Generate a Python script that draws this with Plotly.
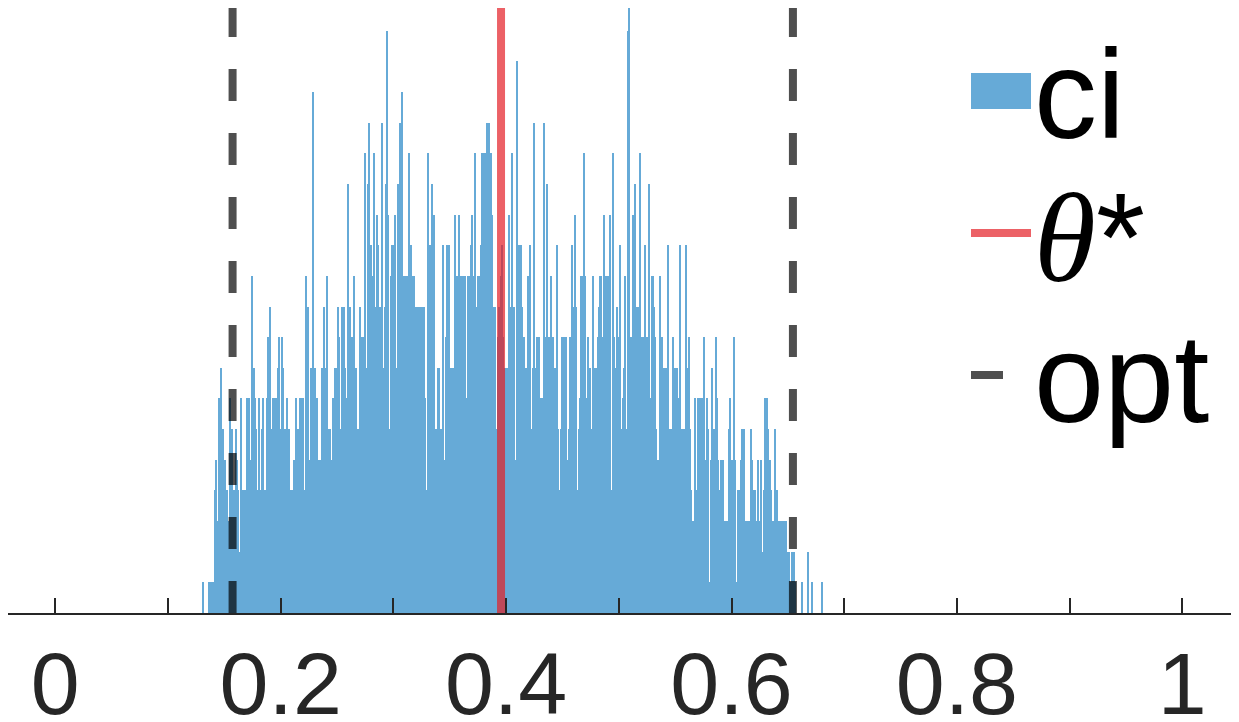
import plotly.graph_objects as go

# ---------------- data ----------------
bin_start = 0.130
bin_width = 0.001
counts = [
    0, 1, 0, 0, 0, 0, 1, 1, 0, 1,
    1, 4, 5, 2, 3, 7, 4, 8, 6, 4,
    5, 2, 4, 3, 3, 7, 6, 3, 4, 4,
    6, 5, 4, 2, 7, 3, 4, 1, 4, 3,
    7, 7, 5, 1, 11, 7, 8, 7, 6, 4,
    7, 4, 2, 6, 7, 4, 4, 7, 9, 6,
    10, 1, 6, 7, 7,
    7, 6, 8, 9, 6, 3, 9, 8, 6, 5,
    7, 3, 6, 4, 4, 4, 5, 5, 7, 6,
    6, 6, 7, 7, 7, 4, 4, 11, 9, 10,
    5, 8, 8, 17, 2, 8, 4, 7, 5, 5,
    5, 8, 8, 10, 8, 8, 11, 6, 6, 5,
    3, 7, 7, 8, 8, 10, 9, 6,
    6, 10, 8, 10, 8, 7, 14, 10, 10, 4,
    9, 8, 11, 8, 2, 6, 6, 10, 6, 9,
    9, 15, 8, 8, 14, 16, 8, 12, 11, 15,
    10, 8, 13, 12, 9, 10, 16, 8, 8, 10,
    14, 19, 13, 6, 11, 12, 12, 9, 13, 8,
    8, 14, 16, 10, 17, 7, 11, 11, 11, 11,
    15, 11, 12, 11, 11, 11, 10, 10, 10, 8,
    10, 10, 10, 10, 10, 7, 4, 15, 12, 12,
    7, 14, 4, 13, 6, 5, 8, 8, 5, 6,
    6, 12, 5, 9, 12, 12, 12, 8, 8, 8,
    4, 13, 11, 11, 11, 13, 11, 11, 11, 11,
    11, 7, 2, 11, 11, 12, 13, 11, 11, 15,
    5, 10, 11, 11, 12, 15, 6, 15, 15, 7,
    16, 16, 15,
    15, 13, 10, 9, 10, 6, 9, 10, 10, 11,
    12, 9, 8, 8, 8, 7, 13, 10, 10, 15,
    5, 10, 5, 18, 10, 12, 7, 12, 10, 9,
    8, 2, 8, 11, 4, 12, 6, 8, 16, 6,
    8, 9, 9, 9, 7, 7, 4, 16, 9, 8,
    14, 9, 9, 11, 9, 9, 8, 8, 8, 12,
    6, 4, 6, 9, 9, 9, 4, 9, 5, 6,
    9, 9, 12, 10, 6, 13, 10, 4, 6, 7,
    11, 11, 10, 15, 11, 7, 9, 8, 8, 6,
    5, 11, 8, 8, 8, 9, 10, 11, 11, 9,
    13, 7, 11, 10, 11, 9, 13, 4, 15, 9,
    8, 8, 10, 9, 9, 12, 6, 7, 8, 11,
    6, 5, 19, 20, 9, 9, 13, 9, 14, 10,
    10, 10, 15, 9, 7, 9, 9,
    12, 9, 9, 14, 7, 7, 11, 11, 10, 9,
    6, 5, 5, 11, 5, 9, 6, 8, 8, 8,
    12, 6, 5, 6, 6, 9, 8, 2, 8, 7,
    7, 12, 5, 6, 6, 5, 12, 8, 8, 9,
    6, 4, 3, 2, 7, 4, 2, 7, 3, 7,
    7, 4, 9, 5, 3, 7, 6, 1, 5, 8,
    4, 6, 6, 9, 7, 5, 4, 5, 4, 5,
    3, 3, 2, 3, 6, 7, 5, 5, 3, 9,
    5, 1, 4, 4,
    4, 5, 6, 4, 6, 3, 3, 3, 3, 3,
    6, 5, 4, 4, 3, 2, 5, 3, 2, 5,
    2, 4, 7, 6, 7, 6, 4, 5, 4, 3,
    1, 6, 4, 4, 3, 3, 3, 3, 2, 3,
    1, 3, 1, 2, 2, 1, 2, 0, 2, 1,
    0, 0, 0, 0, 0, 1, 0, 0, 0, 0,
    2, 0, 0, 0, 1, 0, 0, 0, 0, 0,
    0, 0, 0, 1,
]
theta_star = 0.3955
opt_bounds = [0.1573, 0.6545]
tick_vals = [0, 0.2, 0.4, 0.6, 0.8, 1]
tick_text = ["0", "0.2", "0.4", "0.6", "0.8", "1"]
minor_tick_vals = [0.1, 0.3, 0.5, 0.7, 0.9]
legend_labels = ["ci", "<i>θ</i>*", "opt"]

bin_centers = [bin_start + (i + 0.5) * bin_width for i in range(len(counts))]

# ---------------- style / layout ----------------
W, H = 1239, 722
OFF = 8                      # page body margin offset of the figure div
AXIS_Y = 613                 # screen y of the x-axis line
PX_PER_UNIT = 1127.0         # screen px per x data unit
X_ZERO = 55.3                # screen x of value 0
PX_PER_COUNT = AXIS_Y / 20.0

PLOT_W = W - OFF             # figure px
PLOT_H = AXIS_Y - OFF        # figure px

BAR_COLOR = "#66AAD7"
RED = "rgba(228,30,37,0.7)"
DARK = "rgba(0,0,0,0.69)"
YMAX = (AXIS_Y - OFF) / PX_PER_COUNT

fig = go.Figure()
fig.add_trace(go.Bar(
    x=bin_centers, y=counts, width=bin_width,
    marker=dict(color=BAR_COLOR, line=dict(width=0)),
    showlegend=False, hoverinfo="skip",
))
fig.add_trace(go.Scatter(
    x=[theta_star, theta_star], y=[0, 20], mode="lines",
    line=dict(color=RED, width=8), showlegend=False, hoverinfo="skip",
))
for xv in opt_bounds:
    fig.add_trace(go.Scatter(
        x=[xv, xv], y=[0, 20], mode="lines",
        line=dict(color=DARK, width=8, dash="32px,32px"),
        showlegend=False, hoverinfo="skip",
    ))


def px_x(screen_x):
    return (screen_x - OFF) / PLOT_W


def px_y(screen_y):
    return (PLOT_H - (screen_y - OFF)) / PLOT_H


shapes = [
    dict(type="rect", xref="paper", yref="paper",
         x0=px_x(971), x1=px_x(1031), y0=px_y(109), y1=px_y(73),
         fillcolor=BAR_COLOR, line=dict(width=0)),
    dict(type="line", xref="paper", yref="paper",
         x0=px_x(971), x1=px_x(1031), y0=px_y(233), y1=px_y(233),
         line=dict(color=RED, width=8)),
    dict(type="line", xref="paper", yref="paper",
         x0=px_x(971), x1=px_x(1003), y0=px_y(375), y1=px_y(375),
         line=dict(color=DARK, width=8)),
]

LEG_FONT = 126
legend_y = [94, 238, 378]
annotations = []
for lab, ly in zip(legend_labels, legend_y):
    txt = lab
    if "θ" in lab:
        txt = "<span style=\"font-family:'Liberation Serif'\"><i>θ</i></span>*"
    annotations.append(dict(
        xref="paper", yref="paper", x=px_x(1032), y=px_y(ly),
        xanchor="left", yanchor="middle", showarrow=False, text=txt,
        font=dict(family="Liberation Sans, Arial, sans-serif", size=LEG_FONT, color="black"),
    ))

xmin = (OFF - X_ZERO) / PX_PER_UNIT
xmax = (W - X_ZERO) / PX_PER_UNIT

fig.update_layout(
    width=W, height=H,
    margin=dict(l=0, r=W - PLOT_W, t=0, b=H - PLOT_H, autoexpand=False),
    paper_bgcolor="white", plot_bgcolor="white",
    bargap=0, barmode="overlay",
    shapes=shapes, annotations=annotations,
    xaxis=dict(
        range=[xmin, xmax],
        tickmode="array", tickvals=tick_vals, ticktext=tick_text,
        ticks="inside", ticklen=15, tickwidth=1.5, tickcolor="#262626",
        showline=True, linecolor="#262626", linewidth=2,
        showgrid=False, zeroline=False,
        tickfont=dict(family="Liberation Sans, Arial, sans-serif", size=88, color="#262626"),
        ticklabelstandoff=-7,
        minor=dict(tickvals=minor_tick_vals, ticks="inside", ticklen=15,
                   tickwidth=1.5, tickcolor="#262626", showgrid=False),
    ),
    yaxis=dict(range=[0, YMAX], visible=False, showgrid=False, zeroline=False),
)

fig.write_html("out.html")
